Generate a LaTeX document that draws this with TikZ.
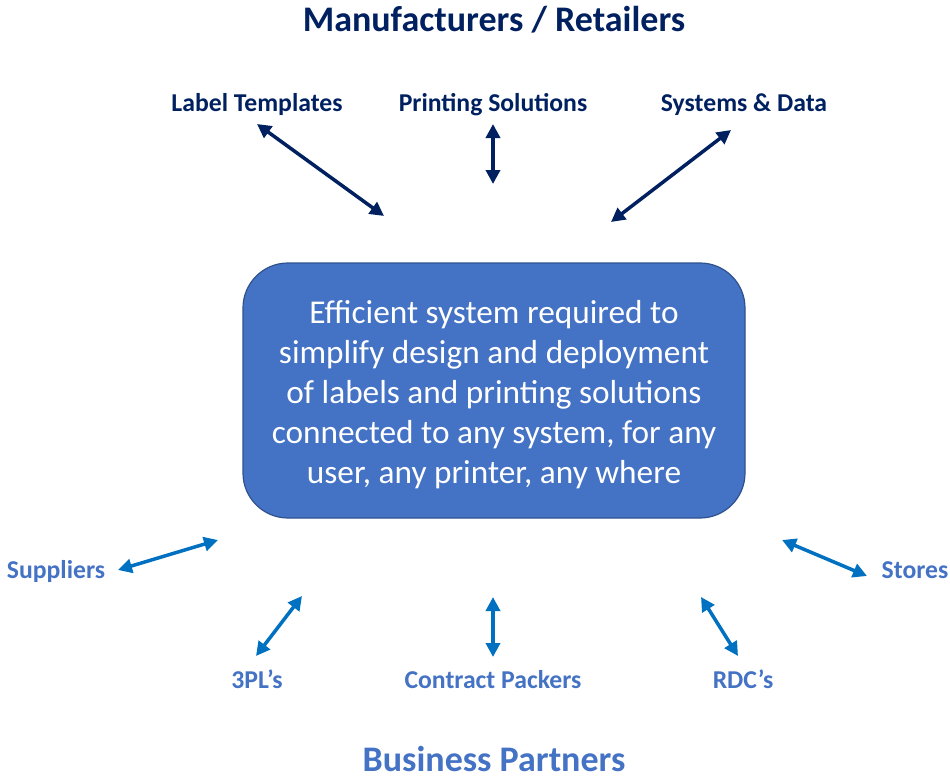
\documentclass[tikz,border=0pt]{standalone}
\usepackage{fontspec}
\setmainfont{Carlito}
\usetikzlibrary{arrows.meta}
\definecolor{navy}{HTML}{002060}
\definecolor{midblue}{HTML}{4472C4}
\definecolor{arrowblue}{HTML}{0070C0}
\definecolor{boxedge}{HTML}{2F528F}
\tikzset{
  toplabel/.style={font=\bfseries\fontsize{25.7}{30}\selectfont, text=navy, anchor=base, inner sep=0pt},
  botlabel/.style={font=\bfseries\fontsize{25.7}{30}\selectfont, text=midblue, anchor=base, inner sep=0pt},
  heading/.style={font=\bfseries\fontsize{36}{42}\selectfont, anchor=base, inner sep=0pt},
  topdbl/.style={draw=navy, line width=3.5pt, {Triangle[length=14pt,width=14pt]}-{Triangle[length=14pt,width=14pt]}},
  botdbl/.style={draw=arrowblue, line width=3.5pt, {Triangle[length=14pt,width=14pt]}-{Triangle[length=14pt,width=14pt]}},
  mainbox/.style={draw=boxedge, line width=1.2pt, fill=midblue, rounded corners=45pt,
    minimum width=502pt, minimum height=255pt, inner sep=0pt},
  boxtext/.style={text=white, align=center, font=\fontsize{33.3}{40}\selectfont, inner sep=0pt}
}
\begin{document}
\begin{tikzpicture}[x=1pt,y=-1pt]
\useasboundingbox (0,0) rectangle (950,776);
\node[heading, text=navy] (title) at (494,32) {Manufacturers / Retailers};
\node[heading, text=midblue] (bp) at (494,771.5) {Business Partners};
\node[mainbox] (box) at (494,390.5) {};
\node[boxtext] (boxtxt) at (494,394.5) {Efficient system required to\\simplify design and deployment\\of labels and printing solutions\\connected to any system, for any\\user, any printer, any where};
\node[toplabel] (lt) at (257,111) {Label Templates};
\node[toplabel] (ps) at (493,111) {Printing Solutions};
\node[toplabel] (sd) at (744,111) {Systems \& Data};
\node[botlabel] (sup) at (56,578) {Suppliers};
\node[botlabel] (tpl) at (257,688) {3PL’s};
\node[botlabel] (cp) at (493,688) {Contract Packers};
\node[botlabel] (rdc) at (743,688) {RDC’s};
\node[botlabel] (st) at (915,578) {Stores};
\coordinate (lt1) at (257,124); \coordinate (lt2) at (384,216);
\coordinate (ps1) at (493,124); \coordinate (ps2) at (493,184);
\coordinate (sd1) at (731,130); \coordinate (sd2) at (611,222);
\coordinate (sup1) at (118,570); \coordinate (sup2) at (218,540);
\coordinate (tpl1) at (302,596); \coordinate (tpl2) at (256,656);
\coordinate (cp1) at (493,597); \coordinate (cp2) at (493,657);
\coordinate (rdc1) at (701,597); \coordinate (rdc2) at (738,656);
\coordinate (st1) at (782,540); \coordinate (st2) at (867,576);
\draw[topdbl] (lt1) -- (lt2);
\draw[topdbl] (ps1) -- (ps2);
\draw[topdbl] (sd1) -- (sd2);
\draw[botdbl] (sup1) -- (sup2);
\draw[botdbl] (tpl1) -- (tpl2);
\draw[botdbl] (cp1) -- (cp2);
\draw[botdbl] (rdc1) -- (rdc2);
\draw[botdbl] (st1) -- (st2);
\end{tikzpicture}
\end{document}
